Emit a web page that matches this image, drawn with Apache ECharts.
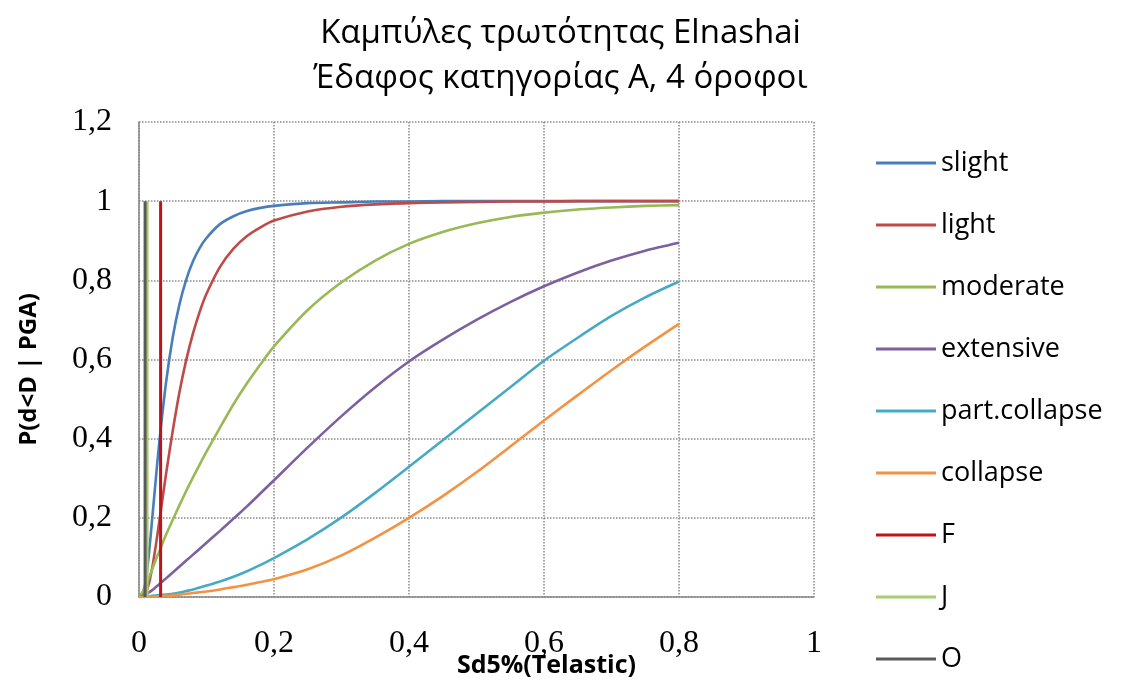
<!DOCTYPE html>
<html>
<head>
<meta charset="utf-8">
<script src="https://cdn.jsdelivr.net/npm/echarts@6/dist/echarts.min.js"></script>
<style>
  html, body { margin: 0; padding: 0; background: #ffffff; }
  #chart { width: 1121px; height: 699px; }
</style>
</head>
<body>
<div id="chart"></div>
<script>
// Spectral displacement Sd5% (Telastic) sample points shared by the curves
const sd = [0, 0.005, 0.01, 0.015, 0.02, 0.025, 0.03, 0.04, 0.05, 0.06, 0.07, 0.08, 0.09, 0.1,
            0.12, 0.14, 0.16, 0.18, 0.2, 0.25, 0.3, 0.35, 0.4, 0.45, 0.5, 0.55, 0.6, 0.65, 0.7, 0.75, 0.8];

// Exceedance probability per damage state
const slight = [0, 0.004, 0.041, 0.114, 0.206, 0.3, 0.39, 0.541, 0.656, 0.74, 0.802, 0.848, 0.882, 0.907,
                0.942, 0.962, 0.975, 0.983, 0.988, 0.995, 0.997, 0.999, 0.999, 1, 1, 1, 1, 1, 1, 1, 1];
const light = [0, 0.001, 0.01, 0.036, 0.078, 0.131, 0.19, 0.31, 0.42, 0.518, 0.599, 0.666, 0.721, 0.766,
               0.834, 0.88, 0.912, 0.934, 0.951, 0.974, 0.986, 0.992, 0.995, 0.997, 0.998, 0.999, 0.999, 1, 1, 1, 1];
const moderate = [0, 0.012, 0.03, 0.05, 0.072, 0.095, 0.115, 0.157, 0.195, 0.232, 0.268, 0.302, 0.335, 0.367,
                  0.428, 0.487, 0.54, 0.588, 0.633, 0.725, 0.795, 0.85, 0.892, 0.922, 0.944, 0.96, 0.971, 0.979, 0.984, 0.988, 0.99];
const extensive = [0, 0.002, 0.006, 0.012, 0.018, 0.025, 0.032, 0.047, 0.062, 0.077, 0.092, 0.107, 0.122, 0.137,
                   0.167, 0.198, 0.229, 0.262, 0.295, 0.378, 0.457, 0.53, 0.595, 0.65, 0.7, 0.745, 0.785, 0.82, 0.85, 0.875, 0.895];
const partCollapse = [0, 0, 0.001, 0.002, 0.003, 0.004, 0.005, 0.006, 0.008, 0.011, 0.015, 0.019, 0.024, 0.029,
                      0.039, 0.051, 0.065, 0.081, 0.098, 0.146, 0.201, 0.263, 0.329, 0.396, 0.463, 0.53, 0.597, 0.655, 0.71, 0.757, 0.797];
const collapse = [0, 0, 0, 0.001, 0.001, 0.001, 0.002, 0.003, 0.004, 0.006, 0.008, 0.01, 0.012, 0.014,
                  0.019, 0.025, 0.031, 0.038, 0.045, 0.07, 0.105, 0.15, 0.2, 0.255, 0.315, 0.38, 0.446, 0.51, 0.573, 0.633, 0.69];

// Threshold markers drawn as vertical lines (Sd value, probability span)
const markF = [[0.032, 0], [0.032, 1]];
const markJ = [[0.012, 0], [0.012, 1]];
const markO = [[0.009, 0], [0.009, 1]];

const xTicks = { min: 0, max: 1, step: 0.2 };
const yTicks = { min: 0, max: 1.2, step: 0.2 };

const pairs = ys => sd.map((x, i) => [x, ys[i]]);
const comma = v => String(+v.toFixed(1)).replace('.', ',');

const curves = [
  { name: 'slight', data: slight, color: '#4A7EBB' },
  { name: 'light', data: light, color: '#BE4B48' },
  { name: 'moderate', data: moderate, color: '#98B954' },
  { name: 'extensive', data: extensive, color: '#7D60A0' },
  { name: 'part.collapse', data: partCollapse, color: '#46AAC5' },
  { name: 'collapse', data: collapse, color: '#F39243' }
];
const markers = [
  { name: 'F', data: markF, color: '#C0121A' },
  { name: 'J', data: markJ, color: '#A8CC6E' },
  { name: 'O', data: markO, color: '#5A5A5A' }
];

const series = curves.map(c => ({
  name: c.name, type: 'line', data: pairs(c.data),
  smooth: 0.25, symbol: 'none',
  lineStyle: { color: c.color, width: 2.6 }, itemStyle: { color: c.color }
})).concat(markers.map(m => ({
  name: m.name, type: 'line', data: m.data, symbol: 'none',
  lineStyle: { color: m.color, width: 3 }, itemStyle: { color: m.color }
})));

const chart = echarts.init(document.getElementById('chart'), null, { renderer: 'canvas' });
chart.setOption({
  backgroundColor: '#ffffff',
  animation: false,
  title: {
    text: 'Καμπύλες τρωτότητας Elnashai\nΈδαφος κατηγορίας Α, 4 όροφοι',
    left: 'center', top: 6,
    textStyle: { fontFamily: 'Open Sans', fontSize: 33, fontWeight: 'normal', color: '#000', lineHeight: 45 }
  },
  legend: {
    orient: 'vertical', left: 871, top: 144, itemGap: 34,
    itemWidth: 60, itemHeight: 3, icon: 'rect', selectedMode: false,
    textStyle: { fontFamily: 'Open Sans', fontSize: 27, color: '#000', lineHeight: 28 },
    data: curves.concat(markers).map(s => s.name)
  },
  grid: { left: 139, right: 307, top: 122, bottom: 102, containLabel: false },
  xAxis: {
    type: 'value', min: xTicks.min, max: xTicks.max, interval: xTicks.step,
    name: 'Sd5%(Telastic)', nameLocation: 'middle', nameGap: 56, nameMoveOverlap: false,
    nameTextStyle: { fontFamily: 'Open Sans', fontSize: 25, fontWeight: 'bold', color: '#000', padding: [0, 0, 0, 140] },
    axisLine: { show: true, lineStyle: { color: '#868686', width: 1.5 } },
    axisTick: { show: false },
    axisLabel: { formatter: comma, margin: 31, fontFamily: 'Liberation Serif', fontSize: 32, color: '#000' },
    splitLine: { show: true, lineStyle: { type: 'dotted', color: '#8a8a8a', width: 1.5 } }
  },
  yAxis: {
    type: 'value', min: yTicks.min, max: yTicks.max, interval: yTicks.step,
    name: 'P(d<D | PGA)', nameLocation: 'middle', nameGap: 98, nameRotate: 90, nameMoveOverlap: false,
    nameTextStyle: { fontFamily: 'Open Sans', fontSize: 24, fontWeight: 'bold', color: '#000', padding: [0, 20, 0, 0] },
    axisLine: { show: true, lineStyle: { color: '#868686', width: 1.5 } },
    axisTick: { show: false },
    axisLabel: { formatter: comma, margin: 27, fontFamily: 'Liberation Serif', fontSize: 32, color: '#000' },
    splitLine: { show: true, lineStyle: { type: 'dotted', color: '#8a8a8a', width: 1.5 } }
  },
  series: series
});
</script>
</body>
</html>
